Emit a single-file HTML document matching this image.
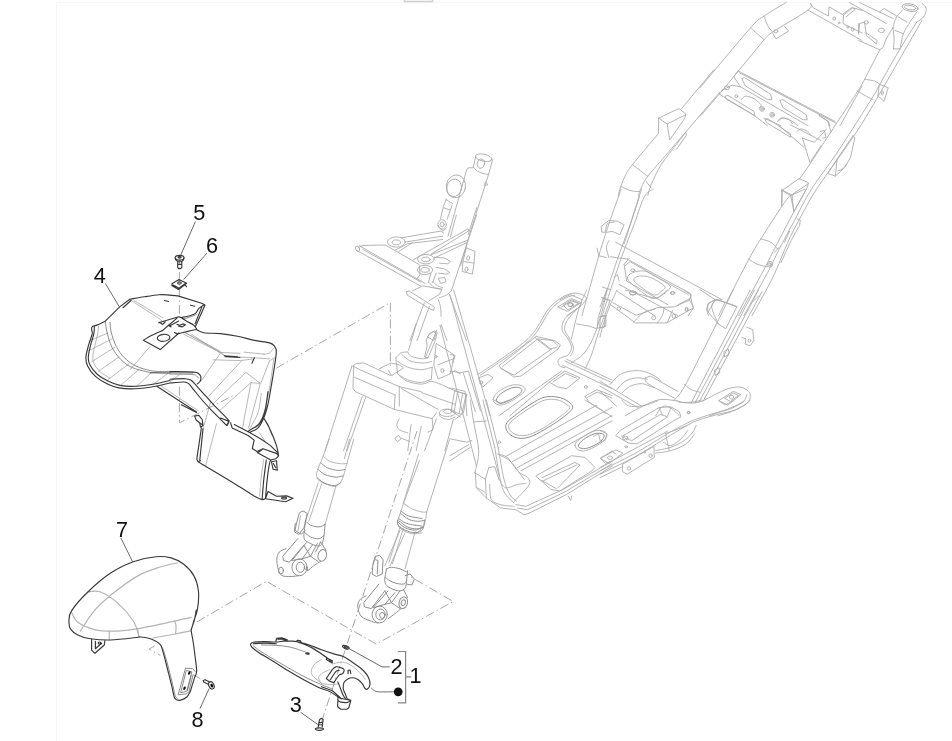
<!DOCTYPE html>
<html><head><meta charset="utf-8"><title>Parts diagram</title>
<style>
html,body{margin:0;padding:0;background:#fff;width:952px;height:741px;overflow:hidden}
svg{display:block;position:absolute;left:0;top:0;filter:blur(.45px)}
.k{fill:none;stroke:#383838;stroke-width:1.15;stroke-linecap:round;stroke-linejoin:round}
.m{fill:none;stroke:#707070;stroke-width:.8;stroke-linecap:round}
.n{fill:none;stroke:#b4b4b4;stroke-width:1.2;stroke-linecap:round}
.h{fill:none;stroke:#9a9a9a;stroke-width:.7;stroke-linecap:round}
.g{fill:none;stroke:#ababab;stroke-width:.9;stroke-linecap:round;stroke-linejoin:round}
.e{fill:none;stroke:#8e8e8e;stroke-width:1;stroke-linecap:round;stroke-linejoin:round}
.d{fill:none;stroke:#9c9c9c;stroke-width:.9;stroke-dasharray:9 3 1.5 3}
.b{fill:none;stroke:#858585;stroke-width:1.2}
.t{fill:none;stroke:#444;stroke-width:.8}
.f{fill:#111;stroke:none}
text{font-family:"Liberation Sans",Arial,sans-serif;font-size:21.7px;fill:#111}
.frame{fill:none;stroke:#f6f6f6;stroke-width:1}
.tab{fill:#fff;stroke:#cfcfcf;stroke-width:1.5}
</style></head><body>
<svg width="952" height="741" viewBox="0 0 952 741">
<path class="frame" d="M56.5,741V2.5H952"/>
<rect class="tab" x="404.5" y="-3" width="28" height="4.5"/>
<path class="g" d="M475.8,156.0 L473.3,167.0 M492.4,160.3 L488.5,174.6 M473.3,167.0C474.0,167.7 475.7,170.1 477.5,171.2C479.3,172.3 482.4,173.2 484.3,173.8C486.1,174.3 487.8,174.5 488.5,174.6 M466.5,170.4 L448.0,236.2 M488.5,174.6 L467.4,241.3 L460.6,265.7 M466.5,170.4 L468.2,167.8 L473.3,167.8 M476.7,207.5 L468.2,234.5 M446.3,199.1 L442.9,207.5 L450.5,210.0 M445.8,199.4 L452.5,203.5 M442.9,208.4 L440.4,219.3 M452.2,205.0 L447.1,219.3 M437.8,225.2 L442.9,231.1 L446.3,227.8 M485.4,182.2 L488.0,184.7 L484.3,185.6 L485.4,182.2 M359.3,245.7 L425.1,283.4 M357.6,250.8 L421.7,286.7 M362.7,249.3 L420.9,282.0 M364.3,245.4 L385.4,245.0 L419.2,264.5 L420.0,274.9 L417.0,278.8 M364.3,245.4 L360.1,246.2 M401.5,237.8 L441.1,231.0 L443.7,233.2 M405.7,242.0 L442.8,236.1 M394.7,250.4 L407.4,243.7 L442.8,239.5 M398.9,251.3 L412.4,242.8 M413.3,259.7 L468.1,228.8 L469.0,230.7 L431.0,254.2 M431.0,254.8 L467.3,240.3 M434.4,258.0 L466.5,242.8 M466.5,247.9 L474.9,251.3 L474.1,262.3 L472.4,274.1 L462.2,271.5 L463.1,260.6 L466.5,247.9 M463.1,261.4 L474.1,263.1 M406.5,291.8 L409.1,290.9 L434.4,307.0 L433.5,310.4 L431.0,309.5 L407.4,295.2 L406.5,291.8 M412.4,290.9 L422.6,285.9 L442.0,289.3 L439.5,294.3 L428.5,301.1 M429.3,282.5C430.2,283.4 432.3,286.4 434.4,287.6C436.5,288.7 440.7,289.0 442.0,289.3 M432.7,281.7C433.5,282.4 436.1,284.9 437.8,285.9C439.5,286.9 442.0,287.3 442.8,287.6 M431.0,272.4 L428.5,282.5 M436.1,273.2 L432.7,282.5 M438.6,278.3 L444.5,277.4 L446.2,281.7 L441.1,283.4Z M434.4,257.2 L444.5,258.0 L450.4,261.4 L447.9,263.9 L439.5,263.1 M436.1,267.3 L444.5,269.0 L449.6,272.4 L447.0,274.1 L438.6,273.2 M424.3,302.8 L409.9,340.7 M429.3,306.5 L417.0,340.7 M437.8,298.5C438.2,299.8 439.7,303.2 440.3,306.1C440.9,309.1 441.0,314.6 441.1,316.3 M441.1,324.7 L447.0,340.7 M449.2,294.0 L466.5,340.7 M439.5,297.7C440.6,297.3 444.2,296.3 446.2,295.2C448.2,294.0 450.4,291.7 451.3,290.9 M427.6,336.5 L432.7,331.5 L436.1,333.1 L433.9,340.1Z M476.6,215.0 L451.3,290.9 M456.3,215.0 L450.4,236.9 M352.1,365.5 L325.1,450.7 M365.6,397.6 L347.0,450.7 M362.2,396.7 L343.6,450.7 M353.8,366.4 L352.9,388.3 L355.4,391.7 L394.3,409.4 L432.2,418.7 L436.5,412.8 M352.9,365.8 L356.3,363.5 L363.9,363.0 L375.7,368.5 L390.9,375.6 M353.8,366.4 L359.7,369.7 L399.3,386.6 M354.6,377.3 L395.1,395.0 M399.3,386.6 L399.3,406.0 M395.1,395.0 L394.3,409.4 M399.3,386.6 L421.3,391.7 M401.0,388.3 L438.1,409.4 M421.3,392.5 L455.0,404.3 M432.2,418.7 L433.1,429.6 L428.0,432.2 M399.3,375.6C400.7,376.6 404.1,380.1 407.8,381.5C411.4,382.9 417.6,384.1 421.3,384.1C424.9,384.1 428.3,382.0 429.7,381.5 M397.6,373.9C399.3,374.9 403.8,378.4 407.8,379.9C411.7,381.3 417.3,382.5 421.3,382.4C425.2,382.2 429.7,379.6 431.4,379.0 M395.9,357.9C396.8,357.1 399.0,353.8 401.0,352.8C403.0,351.9 406.6,352.1 407.8,352.0 M397.6,361.3C399.3,362.3 403.8,365.8 407.8,367.2C411.7,368.6 417.2,369.7 421.3,369.7C425.3,369.7 430.4,367.6 432.2,367.2 M401.9,354.5C403.4,355.7 407.3,359.9 411.1,361.3C414.9,362.7 421.3,363.0 424.6,363.0C428.0,363.0 430.3,361.6 431.4,361.3 M407.8,352.0C408.3,352.7 408.9,355.1 411.1,356.2C413.4,357.3 418.5,358.5 421.3,358.8C424.1,359.0 426.9,358.1 428.0,357.9 M395.9,357.9 L397.6,373.9 M432.2,367.2 L431.4,379.0 M408.6,350.3 L416.5,323.3 M425.5,357.1 L436.8,330.1 M379.1,368.9 L390.9,363.0 L399.3,364.7 L403.5,368.0 L391.7,375.6 L388.4,370.6 M429.7,333.4 L434.8,330.9 L437.3,332.6 L434.8,341.9 L428.0,357.9 L424.6,357.1 L427.2,345.3 L426.3,340.2Z M436.5,343.6 L455.0,355.4 L450.0,373.9 L438.1,379.0 L433.9,365.5Z M438.1,364.7 L453.3,358.8 M428.0,380.7C429.7,381.1 433.6,381.5 438.1,383.2C442.6,384.9 450.2,389.0 455.0,390.8C459.8,392.7 464.9,393.6 466.8,394.2 M466.8,394.2 L463.5,412.8 L455.0,419.5 M450.0,373.9 L455.0,370.6 L460.1,373.9 M455.0,390.8 L466.0,394.2 L461.8,414.5 L451.6,411.1Z M457.6,391.7 L454.2,411.9 M462.6,393.4 L459.2,413.6 M439.8,413.6C440.0,414.2 439.3,416.0 440.7,417.0C442.1,418.0 445.9,419.5 448.3,419.5C450.7,419.5 453.9,417.4 455.0,417.0 M450.1,295.0 L499.4,476.9 M440.0,325.3 L476.6,466.6 M399.3,418.7C398.9,419.7 396.8,422.7 396.8,424.6C396.8,426.4 397.5,428.2 399.3,429.6C401.2,431.0 406.4,432.5 407.8,433.0 M411.1,424.6 L407.8,450.7 M421.3,426.3 L416.2,450.7 M395.1,438.1 L398.5,435.5 L401.0,438.9 L397.6,441.5Z M401.0,438.1 L409.5,441.5 M436.5,418.7 L424.6,450.7 M453.3,419.5 L444.9,450.7 M329.2,439.2 L323.3,456.0 M353.7,439.2 L346.9,463.6 M349.5,439.2 L344.4,458.6 M323.3,456.0C322.3,458.4 318.5,467.0 317.4,470.4C316.3,473.8 316.3,474.6 316.5,476.3C316.8,478.0 317.2,479.1 319.1,480.5C320.9,481.9 324.8,483.7 327.5,484.7C330.2,485.7 333.1,486.6 335.1,486.4C337.1,486.3 338.1,485.3 339.3,483.9C340.6,482.5 341.4,481.4 342.7,478.0C344.0,474.6 346.2,466.0 346.9,463.6 M323.3,456.0C324.3,456.9 326.5,459.8 329.2,461.1C331.9,462.4 336.4,463.2 339.3,463.6C342.3,464.1 345.7,463.6 346.9,463.6 M318.2,483.0 L305.6,521.0 M335.9,486.4 L325.0,524.4 M321.6,483.9 L308.9,521.0 M300.5,515.9 L298.0,531.1 M419.5,460.3 L403.5,503.3 M403.5,503.3C402.6,506.0 399.4,515.8 398.4,519.3C397.4,522.8 397.0,522.7 397.6,524.4C398.1,526.1 399.4,527.9 401.8,529.5C404.2,531.0 408.5,533.1 411.9,533.7C415.3,534.2 420.3,533.0 422.0,532.8 M400.1,530.3 L384.9,565.7 M405.1,532.8 L390.0,565.7 M400.0,526.8 L389.0,562.2 M415.1,531.8 L405.0,568.9 M403.3,528.4 L392.4,563.9 M403.4,503.1C404.8,504.0 408.5,507.2 411.5,508.6C414.5,510.1 419.1,511.4 421.6,511.9C424.1,512.5 425.8,511.9 426.7,511.9 M426.7,511.9C426.4,513.4 426.0,518.2 425.4,520.8C424.8,523.3 424.3,525.0 422.9,527.1C421.4,529.2 417.6,532.3 416.6,533.4 M449.4,440.0 L426.7,511.9 M418.6,453.9 L403.4,503.1 M453.7,290.0 L490.0,415.7 M477.8,374.4C480.2,372.8 485.6,369.6 492.2,365.1C498.8,360.6 511.0,352.3 517.5,347.4C524.0,342.5 527.4,339.5 531.0,335.6C534.7,331.6 536.9,327.7 539.5,323.8C542.0,319.8 543.7,315.5 546.2,311.9C548.7,308.4 551.5,305.3 554.6,302.7C557.7,300.0 561.4,297.5 564.8,295.9C568.1,294.3 571.8,293.2 574.9,293.0C578.0,292.9 581.4,294.2 583.3,295.1C585.3,296.0 586.1,297.9 586.7,298.4 M480.4,375.2C486.8,370.8 510.5,355.1 519.2,348.7C527.9,342.3 529.0,340.9 532.7,336.9C536.4,333.0 538.6,329.0 541.1,325.1C543.7,321.2 545.4,316.8 547.9,313.3C550.4,309.8 552.9,307.0 556.0,304.3C559.1,301.7 563.3,299.1 566.5,297.6C569.6,296.0 573.5,295.5 574.9,295.1 M586.7,298.4C585.9,299.6 584.7,302.4 581.6,305.2C578.6,308.0 571.2,312.5 568.1,315.3C565.0,318.1 564.1,319.5 563.1,322.1C562.1,324.6 561.4,327.7 562.2,330.5C563.1,333.3 566.6,336.1 568.1,338.9C569.7,341.8 571.5,344.7 571.5,347.4C571.5,350.1 569.8,353.3 568.1,355.0C566.5,356.7 563.1,356.5 561.4,357.5C559.7,358.5 558.3,359.5 558.0,360.9C557.7,362.3 558.6,364.8 559.7,365.9C560.8,367.1 563.9,367.4 564.8,367.6 M579.1,306.9C577.4,308.7 571.2,315.0 569.0,317.8C566.7,320.7 566.3,321.6 565.6,323.8C564.9,325.9 564.1,328.0 564.8,330.5C565.5,333.0 568.4,336.0 569.8,338.9C571.3,341.9 573.4,345.4 573.5,348.2C573.7,351.0 571.2,354.6 570.7,355.8 M558.0,306.9 L571.5,298.4 L580.8,302.7 L568.1,311.1Z M561.4,307.2 L571.9,300.8 L578.3,303.5 M498.9,365.9 L536.1,336.4 L554.6,340.6 L560.5,344.9 L558.0,349.1 L520.9,376.1 L514.1,376.9Z M502.3,366.8 L537.8,338.9 L551.3,349.4 M534.4,337.3 L549.6,349.1 L556.3,347.4 M500.6,368.5 L514.1,375.2 L551.3,349.1 M537.8,338.9 L553.0,340.6 L558.0,345.7 M478.7,377.8 L488.0,374.4 L493.0,377.8 L482.9,387.0Z M493.0,399.7C493.0,397.4 496.0,393.7 498.9,391.3C501.9,388.9 507.1,386.3 510.8,385.4C514.4,384.4 518.5,384.7 520.9,385.4C523.3,386.1 525.1,388.0 525.1,389.6C525.1,391.1 523.6,392.5 520.9,394.6C518.2,396.8 512.7,400.5 509.1,402.2C505.4,404.0 501.6,405.5 498.9,405.1C496.3,404.7 493.0,402.0 493.0,399.7Z M498.9,415.7 L561.4,371.0 M509.9,415.7 L549.6,382.0 M564.8,360.9 L612.0,382.8 M562.2,365.1 L612.0,388.7 M566.5,359.2 L612.0,380.0 M549.6,382.0 L564.8,371.0 L580.0,377.8 L566.5,388.7 L558.0,387.0Z M553.0,382.0 L565.6,373.5 L576.6,378.1 M585.0,396.3 L596.8,389.6 L612.0,395.5 M585.0,396.3 L590.1,403.1 L612.0,416.6 M587.6,397.2 L597.2,392.1 L612.0,398.0 M571.5,362.6C573.5,361.2 579.7,358.4 583.3,354.1C587.0,349.9 590.4,344.3 593.5,337.3C596.6,330.2 599.6,319.8 601.9,311.9C604.1,304.1 606.1,293.7 607.0,290.0 M586.7,290.0C585.6,292.5 581.9,299.6 580.0,305.2C578.0,310.8 576.3,318.1 574.9,323.8C573.5,329.4 572.1,336.4 571.5,338.9 M585.0,369.3C586.1,366.8 589.5,360.3 591.8,354.1C594.0,347.9 595.4,341.2 598.5,332.2C601.6,323.2 608.4,305.5 610.3,300.1 M598.5,317.0 L605.3,315.3 L604.4,327.1 L597.7,328.0Z M576.6,323.8 L590.1,326.3 L596.8,328.8 M450.0,354.1 L454.2,355.8 L452.5,362.6 M450.0,371.0 L460.1,372.7 L468.6,371.0 M463.5,373.5 L475.3,411.5 M468.6,371.9 L480.4,410.7 M450.0,387.9 L465.2,391.3 L466.9,415.7 M625.3,290.0 L648.9,296.8 L657.4,298.4 L667.5,290.0 M610.1,304.3 L635.4,322.9 L666.7,322.9 L693.7,307.7 L689.5,300.1 L691.1,295.1 L684.4,290.0 M612.7,302.7 L636.3,315.3 L657.4,307.7 L674.3,306.9 L689.5,300.1 M633.8,322.1C635.2,320.7 638.5,315.9 642.2,313.6C645.9,311.4 653.4,309.4 655.7,308.6 M657.4,322.9C658.2,321.6 661.3,317.8 662.4,315.3C663.6,312.8 663.9,309.0 664.1,307.7 M667.5,322.1 L672.6,310.3 M606.8,290.0 L600.0,306.9 M616.9,290.0C615.8,292.5 612.4,299.6 610.1,305.2C607.9,310.8 605.1,318.4 603.4,323.8C601.7,329.1 600.6,335.0 600.0,337.3 M601.7,297.6 L608.4,300.1 M600.8,317.0 L605.9,315.3 L605.9,326.3 L600.0,328.0Z M733.3,290.0C730.5,295.6 721.8,313.1 716.5,323.8C711.1,334.4 706.9,343.2 701.3,354.1C695.6,365.1 687.2,382.0 682.7,389.6C678.2,397.2 675.7,398.0 674.3,399.7 M750.2,290.0 L691.1,403.1 M754.4,290.0 L694.9,403.1 M758.6,290.0 L699.1,402.2 M762.0,291.7 L703.0,401.4 M708.0,303.5 L716.5,299.3 L736.7,306.9 L725.7,328.8 L718.1,323.8 L708.0,311.9Z M716.5,299.3C715.7,300.5 711.4,302.8 711.7,306.9C712.0,311.0 717.1,320.9 718.1,323.8 M684.4,384.5C685.5,385.4 688.6,388.3 691.1,389.6C693.7,390.8 698.2,391.7 699.6,392.1 M724.1,351.6 L728.3,349.1 L729.1,354.1 L724.9,356.7Z M714.8,370.2 L719.0,367.6 L719.8,372.7 L715.6,375.2Z M746.8,327.1 L752.7,329.7 L753.9,340.6 L750.2,345.7 L745.1,344.0 L746.0,338.9 L741.8,337.3 M610.1,384.5C611.8,382.8 616.3,376.7 620.3,374.4C624.2,372.1 629.5,371.1 633.8,370.7C638.0,370.3 641.6,370.7 645.6,371.9C649.5,373.0 654.9,376.2 657.4,377.8C659.9,379.3 660.2,380.6 660.8,381.1 M616.9,389.6C618.3,388.2 621.9,383.1 625.3,381.1C628.7,379.2 633.5,378.0 637.1,377.8C640.8,377.5 645.6,379.2 647.3,379.5 M621.9,393.0C623.3,391.8 627.0,387.7 630.4,386.2C633.8,384.7 638.3,383.4 642.2,383.7C646.1,384.0 652.0,387.2 654.0,387.9 M645.6,377.8 L650.6,376.1 L677.6,391.3 M645.6,377.8C646.0,378.7 643.3,380.3 648.1,383.7C652.9,387.0 669.9,395.6 674.3,398.0 M600.0,381.1 L642.2,406.5 M600.0,386.2 L638.8,408.1 M600.0,391.3 L616.9,406.5 M625.3,415.7C628.1,414.2 636.6,409.1 642.2,406.5C647.8,403.8 653.7,400.7 659.1,399.7C664.4,398.7 669.5,400.0 674.3,400.5C679.0,401.1 683.3,402.9 687.8,403.1C692.3,403.2 696.8,402.8 701.3,401.4C705.8,400.0 710.3,396.8 714.8,394.6C719.3,392.5 724.1,390.0 728.3,388.7C732.5,387.5 736.7,386.6 740.1,387.0C743.5,387.5 746.8,389.4 748.5,391.3C750.2,393.1 750.8,395.8 750.2,398.0C749.6,400.3 748.2,402.5 745.1,404.8C742.1,407.0 736.1,409.7 731.6,411.5C727.1,413.3 720.4,415.0 718.1,415.7 M746.8,394.6C746.3,395.8 746.3,399.1 743.5,401.4C740.6,403.6 735.6,405.8 730.0,408.1C724.3,410.5 713.1,414.5 709.7,415.7 M719.0,400.5 L733.3,391.3 L740.9,394.6 L728.3,404.8Z M724.9,398.0 L733.3,393.0 L738.4,395.5 L730.8,401.4Z M655.7,415.7C656.8,414.2 659.9,407.7 662.4,406.5C665.0,405.2 668.1,406.6 670.9,408.1C673.7,409.7 677.9,414.5 679.3,415.7 M482.9,400.0 L494.7,447.3 M494.7,447.3C495.7,452.9 498.8,473.1 500.6,481.0C502.5,488.9 503.4,490.9 505.7,494.5C507.9,498.2 512.7,501.5 514.1,503.0 M486.3,400.0 L498.1,447.3 M498.1,447.3C499.1,452.6 502.0,471.4 504.0,479.3C506.0,487.2 507.8,490.9 509.9,494.5C512.0,498.2 515.5,500.1 516.7,501.3 M470.3,400.0C470.8,403.7 472.2,413.5 473.6,421.9C475.0,430.4 478.4,442.5 478.7,450.6C479.0,458.8 475.9,467.5 475.3,470.9 M473.6,421.9 L486.3,421.1 M475.3,470.9 L476.2,487.8 L486.3,497.9 L500.6,508.0 L515.8,509.7 L524.3,514.8 L529.3,513.1 M474.5,472.6 L485.4,479.3 L488.8,467.5 L494.7,466.7 L498.9,479.3 M485.4,479.3 L486.3,497.9 M489.7,484.4C489.9,486.9 489.5,496.2 491.4,499.6C493.2,503.0 496.8,503.5 500.6,504.6C504.4,505.8 511.9,506.0 514.1,506.3 M477.0,487.8 L484.6,492.0 M529.3,513.1 L566.5,494.5 L612.0,466.3 M517.5,508.0 L527.6,509.7 L564.8,492.0 L612.0,463.8 M515.8,504.6 L525.9,506.3 L563.1,489.5 L612.0,461.3 M568.1,496.2 L570.7,500.4 L571.5,496.2 M497.3,454.0C498.9,454.6 504.0,454.6 507.4,457.4C510.8,460.2 514.1,467.5 517.5,470.9C520.9,474.3 525.7,475.4 527.6,477.6C529.6,479.9 530.5,481.6 529.3,484.4C528.2,487.2 523.4,491.7 520.9,494.5C518.4,497.3 515.3,500.1 514.1,501.3 M500.6,455.7C502.2,456.5 506.8,457.9 509.9,460.8C513.0,463.6 516.8,469.5 519.2,472.6C521.6,475.7 523.4,478.2 524.3,479.3 M498.9,479.3C500.1,480.7 502.6,486.9 505.7,487.8C508.8,488.6 514.1,485.1 517.5,484.4C520.9,483.7 524.5,483.7 525.9,483.5 M505.7,456.5 L596.8,405.1 M512.4,461.6 L612.0,407.3 M517.5,467.5 L612.0,415.7 M520.9,470.9 L612.0,420.8 M536.1,475.9 L571.5,455.7 L585.0,457.4 L595.1,467.5 L591.8,470.9 L559.7,491.1 L551.3,489.5Z M542.0,477.6 L574.9,462.4 L580.0,465.0 L558.0,487.8 M541.1,480.2 L556.3,488.6 M542.8,481.0 L576.6,465.0 M574.9,445.6C574.9,443.6 576.9,441.2 580.0,438.8C583.1,436.4 589.5,432.5 593.5,431.2C597.4,430.0 601.3,430.5 603.6,431.2C605.8,431.9 607.2,433.6 607.0,435.4C606.7,437.3 605.0,439.8 601.9,442.2C598.8,444.6 592.1,448.4 588.4,449.8C584.7,451.2 582.2,451.3 580.0,450.6C577.7,449.9 574.9,447.5 574.9,445.6Z M593.5,436.3 L598.5,433.8 L600.2,440.5 M612.0,451.1 L600.2,458.2 L605.3,463.3 L612.0,461.1 M493.9,400.0 L500.6,403.4 L509.1,400.0 M450.0,410.1 L460.1,416.9 M450.0,438.8 L466.9,442.2 L471.9,440.5 M450.0,455.7 L468.6,444.7 M450.0,460.8 L470.3,447.3 M585.0,400.0 L601.9,410.1 L605.3,413.5 M600.0,474.3C605.6,471.4 622.5,463.6 633.8,457.4C645.0,451.2 659.1,442.2 667.5,437.1C675.9,432.1 679.3,429.8 684.4,427.0C689.5,424.2 692.3,422.4 697.9,420.3C703.5,418.1 712.0,416.0 718.1,414.3C724.3,412.7 730.2,412.0 735.0,410.1C739.8,408.3 744.3,405.1 746.8,403.4C749.4,401.7 749.6,400.6 750.2,400.0 M600.0,470.9C605.6,468.1 622.5,460.2 633.8,454.0C645.0,447.8 659.1,438.7 667.5,433.8C675.9,428.8 679.3,427.0 684.4,424.5C689.5,421.9 692.5,420.5 697.9,418.6C703.2,416.6 710.8,414.3 716.5,412.7C722.1,411.0 727.1,410.3 731.6,408.4C736.1,406.6 741.5,402.8 743.5,401.7 M600.0,467.5 L667.5,431.2 M600.0,477.6 L622.8,466.7 M616.0,435.4 L620.3,430.4 L659.1,407.6 L670.9,406.8 L679.3,411.8 L681.0,416.9 L674.3,420.3 L637.1,443.9 L628.7,443.0Z M621.9,436.3 L660.8,414.3 L667.5,416.9 L632.1,440.5Z M659.1,407.6 L662.4,415.2 M670.9,407.6 L667.5,416.0 M600.8,458.2 L616.0,449.8 L622.8,453.2 L609.3,463.3Z M611.8,451.5 L616.0,454.0 M622.8,464.1 L654.0,446.4 L654.3,457.4 L627.0,474.3 L622.8,471.7Z M655.7,450.6C658.2,450.1 666.1,448.9 670.9,447.3C675.7,445.6 680.7,443.0 684.4,440.5C688.0,438.0 690.9,434.6 692.8,432.1C694.8,429.5 695.6,426.4 696.2,425.3 M655.7,453.2C658.2,452.7 665.8,452.2 670.9,450.6C675.9,449.1 682.1,446.7 686.1,443.9C690.0,441.1 693.1,435.4 694.5,433.8 M663.3,442.2C664.6,442.8 667.9,446.1 670.9,445.6C673.8,445.0 678.2,441.4 681.0,438.8C683.8,436.3 686.6,431.8 687.8,430.4 M665.0,433.8C666.5,433.2 670.5,431.8 674.3,430.4C678.1,429.0 685.5,426.2 687.8,425.3 M665.8,435.4C666.1,436.6 666.9,439.7 667.5,442.2C668.1,444.7 668.9,449.2 669.2,450.6 M621.9,400.0C623.1,401.0 625.3,404.9 628.7,405.9C632.1,406.9 637.7,406.6 642.2,405.9C646.7,405.2 653.0,402.7 655.7,401.7C658.4,400.7 657.8,400.3 658.2,400.0 M675.9,400.0C676.8,400.4 677.9,402.3 681.0,402.5C684.1,402.8 691.1,402.1 694.5,401.7C697.9,401.3 700.1,400.3 701.3,400.0 M719.0,400.8 L724.9,405.1 L733.3,400.8 M600.0,430.4 L606.8,433.8 L605.1,440.5 L600.0,442.2 M533.0,406.0C537.2,403.5 541.0,401.0 545.0,400.0C549.0,399.0 553.6,399.2 557.0,399.8C560.4,400.4 563.4,402.1 565.5,403.5C567.6,404.9 570.5,406.3 569.5,408.5C568.5,410.7 564.0,413.7 559.7,416.9C555.4,420.1 548.8,424.9 543.7,427.8C538.6,430.8 533.4,433.3 529.3,434.6C525.2,435.9 522.2,435.8 519.2,435.4C516.2,435.0 513.4,433.6 511.6,432.1C509.8,430.6 508.6,428.3 508.5,426.5C508.4,424.7 509.2,423.4 511.0,421.5C512.8,419.6 515.8,417.6 519.5,415.0C523.2,412.4 528.8,408.5 533.0,406.0Z M581.9,315.7C584.8,305.8 594.3,271.2 598.8,255.8C603.3,240.5 605.2,234.9 608.9,223.8C612.7,212.6 619.1,194.9 621.1,189.2 M598.8,315.7C601.6,307.2 610.4,279.9 615.7,264.3C621.0,248.6 626.6,234.6 630.9,222.1C635.2,209.5 639.6,194.6 641.4,189.2 M602.2,315.7C605.0,307.2 613.7,279.6 619.1,264.3C624.4,248.9 630.0,235.0 634.3,223.8C638.5,212.5 641.2,202.5 644.4,196.8C647.5,191.0 651.7,190.4 653.2,189.2 M624.1,244.0 L639.3,196.8 M601.4,226.3 L608.9,220.4 L617.4,221.2 L624.1,224.6 L619.9,234.7 L612.3,231.4 L607.3,232.2 L602.2,232.2Z M605.6,231.4C605.9,230.1 605.9,225.3 607.3,223.8C608.7,222.2 612.9,222.3 614.0,222.1 M615.7,242.3 L722.0,299.7 M610.6,256.7 L627.5,259.2 M608.9,240.6C608.5,241.8 606.4,244.6 606.4,247.4C606.4,250.2 608.5,255.8 608.9,257.5 M597.1,248.2 L598.8,255.8 L606.4,257.5 M627.5,259.2 L690.8,293.8 L690.8,298.0 L678.1,304.8 M625.0,265.9 L630.0,261.7 L688.3,294.6 M624.1,264.3 L629.2,258.4 M624.1,264.3 L626.7,281.1 L668.0,304.8 M627.5,277.8C627.5,275.8 629.8,273.8 632.6,272.7C635.4,271.6 640.7,270.5 644.4,271.0C648.0,271.6 650.3,273.7 654.5,276.1C658.7,278.5 667.5,283.0 669.7,285.4C672.0,287.7 669.4,288.7 668.0,290.4C666.6,292.1 664.1,294.2 661.3,295.5C658.5,296.8 655.9,299.8 651.1,298.0C646.4,296.2 636.5,287.9 632.6,284.5C628.6,281.1 627.5,279.7 627.5,277.8Z M634.3,281.1C632.0,278.0 636.5,276.6 639.3,276.1C642.1,275.5 646.9,276.1 651.1,277.8C655.4,279.5 663.0,284.0 664.6,286.2C666.3,288.5 663.2,289.9 661.3,291.3C659.3,292.7 657.3,296.3 652.8,294.6C648.3,293.0 636.5,284.2 634.3,281.1Z M619.1,284.5 L678.1,315.7 M617.4,291.3 L654.5,315.7 M602.2,287.0 L610.6,289.6 M602.2,298.0 L610.6,300.5 M614.0,277.8 L617.4,274.4 L619.1,281.1 M560.0,299.7 L570.1,294.6 L581.9,299.7 L580.3,306.5 L566.8,315.7 M563.4,304.8 L571.8,299.7 L578.6,303.1 L568.4,309.8Z M722.0,299.7C720.3,300.0 714.4,300.0 711.9,301.4C709.4,302.8 707.4,305.8 706.8,308.1C706.3,310.5 708.2,314.5 708.5,315.7 M690.8,298.0 L693.3,308.1 L688.3,315.7 M760.8,238.9C762.4,239.5 768.1,240.6 770.9,242.3C773.7,244.0 776.5,247.9 777.6,249.1 M748.9,259.2C750.4,260.0 754.3,263.0 757.4,264.3C760.5,265.5 765.8,266.4 767.5,266.8 M781.9,189.2 L781.9,205.2 M792.0,195.1 L793.7,211.1 M781.9,190.0 L792.0,195.1 L804.6,189.2 M797.0,218.7 L800.4,220.4 L799.6,225.4 L791.1,240.6 L781.0,262.6 M789.5,231.4 L784.4,242.3 M774.3,252.4 L779.3,247.4 M700.0,289.6 L715.2,299.7 L725.3,302.2 L737.1,306.5 M715.2,299.7 L708.4,311.5 M725.3,302.2 L718.6,315.7 M754.0,300.5 L759.1,295.5 M713.6,70.0 L681.5,108.8 M657.9,134.1C653.7,139.2 637.9,157.8 632.6,164.5C627.2,171.3 627.8,171.0 625.8,174.6C623.9,178.3 622.0,182.9 620.8,186.5C619.5,190.0 618.6,194.2 618.2,195.7 M720.0,91.9C714.7,98.1 696.9,118.9 688.3,129.1C679.6,139.2 674.8,144.8 668.0,152.7C661.3,160.6 652.3,170.4 647.8,176.3C643.3,182.2 642.6,184.9 641.0,188.1C639.5,191.4 638.9,194.5 638.5,195.7 M685.7,132.4C684.2,134.4 680.5,138.9 676.5,144.3C672.4,149.6 665.5,157.8 661.3,164.5C657.0,171.3 653.4,179.6 651.1,184.8C648.9,190.0 648.3,193.9 647.8,195.7 M685.7,132.4 L686.6,135.0 L676.5,149.3 M632.6,164.5C634.0,165.6 638.5,169.3 641.0,171.3C643.5,173.2 646.6,175.5 647.8,176.3 M620.8,186.5C622.4,187.2 627.8,189.8 630.9,190.7C634.0,191.5 637.9,191.4 639.3,191.5 M646.1,181.4 L651.1,188.1 M658.7,118.1 L679.0,108.5 L685.7,113.9 L684.9,118.1 L669.7,140.0 L667.2,124.0 L658.7,118.1 M658.7,118.1 L658.4,133.3 M667.2,124.0 L685.7,114.7 M700.0,87.8C708.4,77.8 739.9,39.8 750.6,27.8C761.3,15.9 758.2,20.3 764.1,16.0C770.0,11.8 782.4,4.8 786.1,2.5 M700.0,116.5 L721.9,91.1 L764.1,39.7 M764.1,39.7C765.5,38.4 765.3,37.0 772.6,32.1C779.9,27.1 801.7,14.9 808.0,10.1C814.3,5.3 810.1,4.5 810.5,3.4 M750.6,27.8C751.8,28.8 755.1,31.8 757.4,33.8C759.6,35.7 763.0,38.7 764.1,39.7 M764.1,16.0C764.7,17.6 766.1,22.6 767.5,25.3C768.9,28.0 771.7,30.9 772.6,32.1 M772.6,32.9 L775.9,38.8 L788.6,31.2 L784.4,26.2 M810.5,3.4 L813.1,7.6 L828.3,16.0 L829.1,6.8 L843.5,15.2 L843.1,23.6 L862.0,32.9 M843.5,15.2 L852.7,7.6 L862.0,10.5 M808.0,10.1 L862.0,40.5 M858.6,23.6 L858.6,33.8 M738.0,70.9 L835.0,121.5 M739.7,72.9 L836.7,123.5 M738.0,70.9 L733.8,76.8 L740.5,86.9 L808.0,125.7 M742.2,78.5 L744.7,77.6 L770.9,94.5 L771.7,99.6 L767.5,99.6 L745.6,86.1Z M780.2,100.4 L782.7,99.6 L806.3,114.8 L807.2,119.8 L803.0,119.8 L783.5,108.0Z M721.9,90.3 L732.1,85.2 L740.5,86.9 M725.3,96.2 L727.8,95.4 L754.0,111.4 L754.9,115.6 L727.0,99.6Z M741.4,99.6C742.1,99.0 743.5,96.3 745.6,96.2C747.7,96.1 751.5,97.3 754.0,98.7C756.5,100.1 759.9,103.1 760.8,104.6C761.6,106.2 759.4,107.5 759.1,108.0 M764.1,118.1 L781.0,125.7 M777.6,121.5C778.5,121.0 780.5,118.3 782.7,118.1C785.0,118.0 788.6,119.4 791.1,120.7C793.7,121.9 796.8,124.9 797.9,125.7 M718.6,93.7 L755.7,116.5 L767.5,125.7 M819.0,115.6 L828.3,121.5 L830.0,125.7 M862.0,86.1 L840.1,125.7 M858.7,33.8 L859.5,23.6 L864.6,21.9 L866.3,35.4 L876.4,43.9 L877.2,40.5 L866.3,32.9 M858.7,40.5 L879.8,49.8 L883.1,47.3 L885.7,39.7 L893.3,27.0 M849.4,2.5 L886.5,23.6 M859.5,2.5 L893.3,18.6 M879.8,11.8 L884.0,8.4 L896.6,16.0 M842.6,14.3 L851.9,7.6 L855.3,9.3 L846.0,16.9 M864.6,79.3C866.3,79.6 872.2,80.2 874.7,81.0C877.2,81.9 878.9,83.8 879.8,84.4 M857.8,91.1C859.2,92.0 863.7,94.8 866.3,96.2C868.8,97.6 871.9,99.0 873.0,99.6 M879.8,84.4 L888.2,87.8 L884.0,101.3 L878.1,96.2Z M902.5,10.1C901.6,11.3 898.2,14.1 896.6,16.9C895.1,19.7 893.7,23.3 893.3,27.0C892.8,30.7 894.1,35.2 894.1,38.8C894.1,42.5 893.4,47.3 893.3,48.9 M916.9,11.8C915.8,13.5 912.4,18.3 910.1,21.9C907.9,25.6 905.1,29.3 903.4,33.8C901.7,38.3 900.6,46.4 900.0,48.9 M922.0,3.4C922.7,4.2 925.9,6.2 926.2,8.4C926.5,10.7 925.2,14.6 923.6,16.9C922.1,19.1 918.0,21.1 916.9,21.9 M898.3,16.9 L906.8,21.9 M895.0,30.4 L903.4,33.8 M893.3,48.9 L900.0,48.9 M853.1,135.6 L854.8,138.1 L850.5,157.5 L844.6,167.6 L835.4,176.1 L827.8,173.5 L837.0,159.2 L853.1,135.6 M837.0,159.2 L835.4,176.1 M846.3,164.3C845.8,165.0 844.4,167.4 843.0,168.5C841.5,169.6 838.7,170.6 837.9,171.0 M782.2,190.4 L799.1,178.6 L808.4,182.8 L807.5,187.0 L794.0,211.5 L790.6,195.5 L782.2,190.4 M782.2,190.4 L781.4,205.6 M790.6,195.5 L808.4,183.7 M802.4,138.1 L810.0,162.6 L821.0,145.7 M802.4,138.1 L814.3,142.3 L826.1,129.7 M819.3,115.3 L827.8,121.2 L831.1,132.2 M820.2,131.4 L824.4,130.5 L826.1,137.3 L822.7,138.1 M778.8,125.4 L804.1,147.4 M765.3,119.5 L767.8,118.7 L790.6,133.9 L790.6,137.3 L767.0,122.9Z M778.0,120.4C778.7,120.0 780.4,118.0 782.2,117.8C784.0,117.7 787.3,118.6 788.9,119.5C790.6,120.5 791.8,123.1 792.3,123.8 M796.5,132.2C797.2,131.6 798.9,129.0 800.8,128.8C802.6,128.7 805.8,130.2 807.5,131.4C809.2,132.5 810.3,134.9 810.9,135.6 M790.6,124.9 L821.0,140.6 M879.8,49.8C877.3,54.7 868.3,72.4 864.6,79.3C860.9,86.2 862.5,83.7 857.8,91.1C853.1,98.5 844.0,111.9 836.2,123.8C828.4,135.7 817.1,153.3 810.9,162.6C804.7,171.9 801.1,176.7 799.1,179.5 M790.5,195.0C789.2,196.7 787.7,197.9 782.7,205.2C777.8,212.5 766.4,229.9 760.8,238.9C755.2,247.9 754.5,248.8 748.9,259.2C743.3,269.6 730.6,294.4 727.0,301.4 M916.9,21.9C914.1,26.4 906.2,38.5 900.0,48.9C893.8,59.3 884.3,76.4 879.8,84.4C875.2,92.4 879.5,86.1 872.7,97.0C865.9,107.9 849.1,134.6 838.9,150.0C828.7,165.4 818.8,177.5 811.4,189.2C804.0,200.9 799.9,210.4 794.5,220.4C789.1,230.4 783.8,240.4 779.3,249.1C774.8,257.8 773.4,261.6 767.5,272.7C761.6,283.8 747.8,308.5 743.9,315.7 M922.0,20.3C915.5,31.6 893.3,70.3 883.1,87.8C872.9,105.2 867.9,114.1 861.0,125.0C854.1,135.9 849.4,142.3 842.0,153.0C834.6,163.7 823.9,177.7 816.5,189.2C809.1,200.7 802.7,213.2 797.9,222.1C793.1,230.9 792.0,233.0 787.8,242.3C783.6,251.6 778.6,265.6 772.6,277.8C766.6,290.0 755.4,309.4 752.0,315.7 M806.3,189.2C803.8,193.8 796.4,207.0 791.1,217.0C785.8,227.0 778.8,240.4 774.3,249.1C769.8,257.8 770.0,258.2 764.1,269.3C758.2,280.4 743.0,308.0 738.8,315.7"/>
<ellipse class="g" cx="483.8" cy="157.7" rx="8.4" ry="3.5" transform="rotate(12 483.8 157.7)"/>
<ellipse class="g" cx="480.9" cy="163.6" rx="3.7" ry="4.7" transform="rotate(15 480.9 163.6)"/>
<ellipse class="g" cx="455.9" cy="186.4" rx="9.6" ry="11.5" transform="rotate(10 455.9 186.4)"/>
<ellipse class="g" cx="454.2" cy="187.8" rx="7.3" ry="8.8" transform="rotate(10 454.2 187.8)"/>
<ellipse class="g" cx="442.1" cy="224.4" rx="4.2" ry="4.7"/>
<ellipse class="g" cx="442.1" cy="224.4" rx="2.0" ry="2.4"/>
<ellipse class="g" cx="357.6" cy="248.8" rx="1.9" ry="2.9" transform="rotate(-20 357.6 248.8)"/>
<ellipse class="g" cx="396.4" cy="242.0" rx="8.9" ry="5.1"/>
<ellipse class="g" cx="396.4" cy="242.3" rx="4.2" ry="2.4"/>
<ellipse class="g" cx="425.9" cy="259.2" rx="8.4" ry="4.7"/>
<ellipse class="g" cx="425.9" cy="259.4" rx="4.2" ry="2.2"/>
<ellipse class="g" cx="425.1" cy="269.9" rx="7.6" ry="4.7"/>
<ellipse class="g" cx="425.1" cy="269.9" rx="4.1" ry="2.4"/>
<ellipse class="g" cx="468.1" cy="258.0" rx="1.5" ry="2.2" transform="rotate(10 468.1 258.0)"/>
<ellipse class="g" cx="466.5" cy="269.3" rx="1.5" ry="2.2" transform="rotate(10 466.5 269.3)"/>
<ellipse class="g" cx="436.1" cy="356.7" rx="1.0" ry="1.4"/>
<ellipse class="g" cx="442.4" cy="370.6" rx="1.5" ry="2.2"/>
<ellipse class="g" cx="447.4" cy="412.8" rx="8.1" ry="3.7"/>
<ellipse class="g" cx="447.8" cy="411.4" rx="4.2" ry="2.0"/>
<ellipse class="g" cx="570.2" cy="304.5" rx="2.5" ry="2.2"/>
<ellipse class="g" cx="481.1" cy="382.5" rx="1.7" ry="1.5"/>
<ellipse class="g" cx="585.9" cy="387.0" rx="1.5" ry="1.4"/>
<ellipse class="g" cx="633.2" cy="293.0" rx="3.7" ry="2.0"/>
<ellipse class="g" cx="672.6" cy="293.0" rx="2.0" ry="1.4"/>
<ellipse class="g" cx="618.9" cy="308.6" rx="1.7" ry="1.7"/>
<ellipse class="g" cx="653.7" cy="317.8" rx="2.0" ry="2.0"/>
<ellipse class="g" cx="673.8" cy="316.2" rx="1.7" ry="2.0"/>
<ellipse class="g" cx="686.6" cy="309.1" rx="1.4" ry="2.0"/>
<ellipse class="g" cx="749.4" cy="340.6" rx="1.4" ry="1.4"/>
<ellipse class="g" cx="731.6" cy="397.2" rx="2.2" ry="1.9"/>
<ellipse class="g" cx="688.6" cy="412.4" rx="1.2" ry="1.0"/>
<ellipse class="g" cx="499.3" cy="442.2" rx="1.4" ry="1.2"/>
<ellipse class="g" cx="625.3" cy="438.0" rx="2.5" ry="2.0"/>
<ellipse class="g" cx="688.6" cy="412.7" rx="1.4" ry="1.2"/>
<ellipse class="g" cx="626.2" cy="446.9" rx="1.2" ry="1.0"/>
<ellipse class="g" cx="610.1" cy="457.7" rx="2.5" ry="1.7"/>
<ellipse class="g" cx="629.0" cy="468.4" rx="1.7" ry="1.7"/>
<ellipse class="g" cx="650.6" cy="455.7" rx="1.7" ry="1.7"/>
<ellipse class="g" cx="644.7" cy="452.3" rx="0.8" ry="0.8"/>
<ellipse class="g" cx="632.9" cy="270.2" rx="2.0" ry="1.4"/>
<ellipse class="g" cx="672.7" cy="293.0" rx="2.0" ry="1.4"/>
<ellipse class="g" cx="632.6" cy="293.0" rx="3.0" ry="2.0"/>
<ellipse class="g" cx="571.0" cy="304.8" rx="2.5" ry="1.7"/>
<ellipse class="g" cx="686.6" cy="309.8" rx="1.4" ry="1.7"/>
<ellipse class="g" cx="770.0" cy="264.3" rx="2.5" ry="3.0"/>
<ellipse class="g" cx="770.0" cy="264.3" rx="1.2" ry="1.5"/>
<ellipse class="g" cx="775.9" cy="31.2" rx="2.0" ry="1.7"/>
<ellipse class="g" cx="834.2" cy="18.6" rx="1.4" ry="1.7"/>
<ellipse class="g" cx="839.2" cy="22.8" rx="0.8" ry="0.8"/>
<ellipse class="g" cx="847.7" cy="27.0" rx="1.0" ry="1.0"/>
<ellipse class="g" cx="852.7" cy="29.5" rx="1.4" ry="1.7"/>
<ellipse class="g" cx="727.0" cy="87.8" rx="2.5" ry="2.0"/>
<ellipse class="g" cx="736.3" cy="96.2" rx="1.5" ry="1.4"/>
<ellipse class="g" cx="762.1" cy="108.9" rx="2.4" ry="2.4"/>
<ellipse class="g" cx="762.1" cy="108.9" rx="1.2" ry="1.2"/>
<ellipse class="g" cx="772.2" cy="114.8" rx="2.4" ry="2.4"/>
<ellipse class="g" cx="772.2" cy="114.8" rx="1.2" ry="1.2"/>
<ellipse class="g" cx="866.3" cy="22.4" rx="2.0" ry="1.7"/>
<ellipse class="g" cx="881.5" cy="30.4" rx="3.0" ry="2.2"/>
<ellipse class="g" cx="882.3" cy="92.8" rx="1.0" ry="2.0"/>
<ellipse class="g" cx="910.1" cy="7.6" rx="8.1" ry="3.7" transform="rotate(10 910.1 7.6)"/>
<ellipse class="g" cx="910.1" cy="7.6" rx="5.9" ry="2.2" transform="rotate(10 910.1 7.6)"/>
<path class="e" d="M320.8,462.8C321.9,463.6 324.7,466.6 327.5,467.8C330.3,469.1 334.8,470.1 337.6,470.4C340.5,470.7 343.5,469.7 344.7,469.5 M318.2,469.5C319.4,470.4 322.0,473.3 325.0,474.6C327.9,475.9 332.9,476.9 335.9,477.1C339.0,477.3 341.9,476.0 343.0,475.8 M317.4,478.0C318.5,478.8 321.3,481.8 324.1,483.0C326.9,484.3 331.6,485.6 334.3,485.6C336.9,485.6 339.2,483.5 340.2,483.0 M305.6,521.0C305.3,523.5 303.7,532.8 303.9,536.2C304.0,539.6 304.4,539.7 306.4,541.3C308.4,542.8 313.2,544.9 315.7,545.5C318.2,546.0 320.2,546.5 321.6,544.6C323.0,542.8 323.6,537.9 324.1,534.5C324.7,531.1 324.8,526.1 325.0,524.4 M305.6,521.0C306.4,521.7 308.4,524.2 310.6,525.2C312.9,526.2 316.7,527.1 319.1,526.9C321.5,526.8 324.0,524.8 325.0,524.4 M304.2,532.0C305.3,532.8 308.2,535.9 310.6,537.0C313.1,538.2 316.9,539.0 319.1,538.7C321.3,538.5 323.0,535.9 323.8,535.4 M299.7,512.6 L303.0,510.9 L307.3,513.4 L303.9,527.8 L298.8,534.5 L294.6,532.0 L296.3,524.4Z M400.9,510.9C402.2,511.7 405.0,514.7 408.5,515.9C412.0,517.2 419.8,518.1 422.0,518.5 M398.7,518.5C400.1,519.3 403.0,522.3 406.8,523.5C410.7,524.8 419.5,525.7 422.0,526.1 M297.8,538.6 L282.7,556.3 L283.5,560.5 L289.4,562.2 L303.8,545.3 M306.3,542.8 L291.9,560.5 M312.2,545.3 L302.1,558.8 M317.3,543.6 L310.5,556.3 M320.6,541.9 L315.6,552.1 M286.0,548.7C284.9,549.3 280.8,550.1 279.3,552.1C277.7,554.0 276.6,556.8 276.8,560.5C276.9,564.2 278.2,571.3 280.1,574.0C282.1,576.7 285.5,576.3 288.6,576.5C291.7,576.8 297.0,575.8 298.7,575.7 M295.3,523.4 L294.5,530.1 L301.2,534.3 L305.4,530.1 M303.8,568.1 L308.0,570.6 L306.3,566.4 M397.4,520.0C397.6,520.8 397.0,523.4 398.3,525.1C399.5,526.8 402.2,528.9 405.0,530.1C407.8,531.4 412.2,532.8 415.1,532.7C418.1,532.5 421.2,531.4 422.7,529.3C424.3,527.2 424.1,521.5 424.4,520.0 M398.3,522.5C399.4,523.4 402.2,526.3 405.0,527.6C407.8,528.9 412.1,530.3 415.1,530.1C418.2,530.0 421.9,527.3 423.2,526.8 M386.5,568.9C386.2,570.9 384.5,577.8 384.8,580.8C385.0,583.7 385.9,585.0 388.1,586.7C390.4,588.4 395.5,590.6 398.3,590.9C401.1,591.2 403.6,590.3 405.0,588.4C406.4,586.4 406.3,582.0 406.7,579.1C407.1,576.1 407.4,572.0 407.6,570.6 M386.5,568.9C387.3,568.7 389.3,567.3 391.5,567.3C393.8,567.3 397.3,568.1 400.0,568.9C402.6,569.8 406.3,571.8 407.6,572.3 M385.1,577.4C386.5,578.2 390.2,581.3 393.2,582.4C396.2,583.6 401.1,584.4 403.3,584.1C405.6,583.9 406.1,581.3 406.7,580.8 M375.5,556.3 L379.7,555.4 L383.1,559.7 L382.2,574.0 L376.3,576.5 L372.1,574.0 L373.0,563.9Z M375.5,559.7 L378.0,560.5 L377.2,574.0 M405.0,575.7 L410.1,574.0 L414.3,579.1 L411.8,585.0 L406.7,584.1 M378.9,584.1 L363.7,602.7 L364.5,606.9 L371.3,608.6 L384.8,590.9 M388.1,590.9 L373.0,607.8 M394.9,592.6 L384.8,604.4 M400.0,590.9 L391.5,602.7 M366.2,595.9C365.2,596.5 361.7,597.6 360.3,599.3C358.9,601.0 357.6,603.3 357.8,606.1C357.9,608.9 358.9,613.7 361.1,616.2C363.4,618.7 368.5,620.1 371.3,621.3C374.1,622.4 376.9,622.7 378.0,623.0 M303.8,545.3 L310.5,556.3 L318.1,561.4 M308.0,570.6C309.0,569.8 311.8,567.1 313.9,565.6C316.0,564.0 319.5,562.1 320.6,561.4 M326.0,550.4 L320.6,541.9 M291.9,560.5 L302.1,558.8 L310.5,556.3 M384.8,590.9 L391.5,602.7 L400.0,608.6 M388.1,618.7C389.3,617.9 392.8,615.3 394.9,613.7C397.0,612.0 399.8,609.7 400.8,608.9 M407.6,597.6 L403.3,589.2 M373.0,607.8 L384.8,604.4 L391.5,602.7 M400.2,513.2C401.6,514.2 406.0,518.1 409.0,519.5C411.9,520.8 415.2,521.1 417.8,521.3C420.4,521.4 423.5,520.4 424.6,520.3 M398.9,520.8C400.4,521.8 404.8,525.7 407.7,527.1C410.7,528.4 414.1,528.8 416.6,528.8C419.0,528.9 421.6,527.6 422.6,527.3 M496.4,399.7C496.6,398.1 498.1,395.8 500.6,393.8C503.2,391.8 508.4,388.9 511.6,387.9C514.8,386.9 518.4,387.3 520.0,387.9C521.7,388.5 522.2,390.0 521.7,391.3C521.3,392.5 519.9,393.8 517.5,395.5C515.1,397.2 510.3,400.1 507.4,401.4C504.4,402.7 501.6,403.5 499.8,403.2C498.0,403.0 496.3,401.3 496.4,399.7Z M578.3,445.6C578.7,444.2 580.7,441.6 583.3,439.7C586.0,437.7 591.1,434.7 594.3,433.8C597.5,432.8 601.1,433.2 602.7,433.8C604.3,434.3 604.6,435.6 603.9,437.1C603.2,438.7 601.3,441.2 598.5,443.0C595.8,444.9 590.5,447.3 587.6,448.1C584.6,448.9 582.3,448.5 580.8,448.1C579.3,447.7 577.8,447.0 578.3,445.6Z M531.0,404.0C535.5,401.3 540.0,398.3 544.5,397.2C549.0,396.1 554.1,396.5 558.0,397.2C561.9,397.9 565.7,399.6 568.1,401.4C570.5,403.2 573.6,405.3 572.5,408.2C571.4,411.1 566.1,415.1 561.4,418.6C556.7,422.2 549.9,426.4 544.5,429.5C539.1,432.6 533.8,435.7 529.3,437.1C524.8,438.5 520.9,438.6 517.5,438.0C514.1,437.4 511.1,435.6 509.1,433.8C507.1,432.0 505.9,429.1 505.7,427.0C505.5,424.9 506.2,423.4 508.2,421.1C510.2,418.9 513.7,416.4 517.5,413.5C521.3,410.6 526.5,406.7 531.0,404.0Z"/>
<ellipse class="e" cx="299.5" cy="567.3" rx="7.6" ry="8.4"/>
<ellipse class="e" cx="300.4" cy="567.3" rx="4.2" ry="5.1"/>
<ellipse class="e" cx="322.3" cy="555.4" rx="4.2" ry="5.9" transform="rotate(15 322.3 555.4)"/>
<ellipse class="e" cx="281.0" cy="570.6" rx="2.4" ry="3.4"/>
<ellipse class="e" cx="379.7" cy="614.5" rx="7.6" ry="8.4"/>
<ellipse class="e" cx="380.5" cy="614.5" rx="4.7" ry="5.4"/>
<ellipse class="e" cx="382.2" cy="615.4" rx="2.5" ry="3.0"/>
<ellipse class="e" cx="403.3" cy="602.7" rx="4.2" ry="5.9" transform="rotate(15 403.3 602.7)"/>
<ellipse class="e" cx="403.3" cy="602.7" rx="2.0" ry="3.0" transform="rotate(15 403.3 602.7)"/>
<path class="d" d="M179.4,386.6 L179.4,422.8 L196.3,414.4 L234.3,395.0 M179.4,255.4 L179.4,317.0 M154.7,645.9 L149.0,649.1 L160.3,655.4 M192.5,674.3 L202.6,680.0 M276.3,368.2 L390.4,302.5 L390.4,367.0 M196.9,622.0 L266.4,581.3 L376.2,644.1 L453.2,601.5 L411.0,577.0 M417.0,431.0 L321.5,722.0"/>
<path class="h" d="M98.6,325.8C98.4,327.1 98.3,330.6 97.7,333.9C97.1,337.2 95.7,341.9 94.9,345.7C94.0,349.5 92.9,353.6 92.8,356.7C92.7,359.7 92.9,361.4 94.2,363.9C95.4,366.5 97.6,369.5 100.3,371.9C102.9,374.2 108.4,377.1 110.0,378.1 M90.1,340.6 L107.8,333.0 M88.4,350.8 L112.1,338.9 M91.8,361.7 L114.6,347.4 M98.2,371.4 L119.2,356.7 M107.8,379.8 L128.9,363.8 M120.5,385.5 L139.1,369.3 M136.0,387.2 L150.9,373.0 M152.9,384.5 L167.8,373.4 M169.8,382.0 L181.3,373.4 M130.6,300.1 L159.3,318.7 L164.4,322.9 M134.0,300.5 L162.7,317.8 M184.6,332.2 L220.1,352.4 L240.0,353.3 M191.4,334.2 L223.5,355.0 M150.0,346.5 L130.6,369.3 M161.0,385.9 L198.1,410.7 M273.8,358.9C273.1,363.7 271.0,379.5 269.6,387.6C268.2,395.8 266.8,402.5 265.4,407.9C264.0,413.2 262.7,416.5 261.1,419.7C259.6,422.9 256.9,426.0 256.1,427.3 M263.7,354.2C264.7,354.0 268.0,354.0 269.6,353.0C271.2,352.1 272.7,349.2 273.3,348.5 M270.9,360.1 L275.0,357.3 M185.2,332.8 L220.6,351.4 M183.5,334.1 L222.3,353.5 L225.7,356.4 M237.5,356.9 L254.4,357.8 L269.9,358.9 M213.0,359.8 L240.9,360.6 L252.7,358.9 M244.3,352.2 L254.4,353.2 L264.5,354.2 M220.6,353.0 L201.2,380.9 M240.9,361.5 L208.8,396.1 M245.9,372.4 L212.2,404.5 M245.9,372.4 L260.3,383.4 L251.0,382.6 L220.6,409.6 M251.0,382.6 L244.3,418.0 L242.6,428.1 M260.3,383.4 L250.2,421.4 L248.5,428.1 M269.6,360.6 L261.1,382.6 M259.6,496.3C259.9,492.9 260.6,482.2 261.3,476.0C262.0,469.8 263.4,461.9 263.8,459.1 M216.5,423.7 L205.6,465.9 M210.6,401.8 L203.0,428.8 M259.6,433.0 L264.6,440.6 M261.3,393.3C260.8,396.1 259.9,405.7 258.7,410.2C257.6,414.7 256.1,417.2 254.5,420.3C253.0,423.4 250.3,427.3 249.5,428.8 M321.5,659.4C320.3,660.2 316.4,662.2 314.6,664.1C312.9,666.1 311.5,668.9 311.2,671.0C311.0,673.0 311.6,674.4 313.3,676.4C315.0,678.5 320.1,682.1 321.5,683.3 M329.7,669.6C328.3,670.3 323.3,672.3 321.5,673.7C319.7,675.1 318.9,676.3 318.7,677.8C318.6,679.3 320.4,681.8 320.8,682.6 M321.5,683.3C322.8,683.5 326.9,684.5 329.7,684.6C332.4,684.7 336.5,684.1 337.9,683.9 M332.4,664.1C333.8,663.8 337.9,662.1 340.6,662.1C343.3,662.1 345.8,662.7 348.8,664.1C351.7,665.6 355.6,668.5 358.3,671.0C361.1,673.5 364.0,677.8 365.2,679.2"/>
<path class="n" d="M87.9,592.0C90.0,592.0 95.4,590.1 100.5,592.0C105.5,593.9 112.7,598.5 118.1,603.4C123.6,608.2 129.8,615.7 133.3,621.0C136.7,626.4 137.9,633.0 138.8,635.4 M71.5,612.2C72.5,613.9 73.8,619.4 77.8,622.3C81.8,625.2 89.1,628.4 95.4,629.9C101.7,631.3 108.5,631.3 115.6,631.1C122.8,630.9 130.3,629.9 138.3,628.6C146.3,627.4 154.7,625.5 163.6,623.6C172.4,621.7 186.7,618.3 191.3,617.3 M109.3,640.0 L109.3,631.6 M80.3,631.1C82.6,627.8 88.7,617.3 94.2,610.9C99.6,604.6 105.7,599.2 113.1,593.3C120.5,587.4 130.3,580.0 138.3,575.6C146.3,571.2 154.5,568.9 161.0,566.8C167.6,564.7 174.7,563.6 177.4,563.0 M137.6,628.3 L138.9,636.8 M174.8,620.7C175.0,621.8 176.0,624.8 176.1,627.0C176.2,629.2 175.6,632.8 175.5,634.0 M152.8,638.0C156.6,637.3 169.1,635.1 175.5,634.0C181.9,632.8 188.6,631.3 191.2,630.8"/>
<path class="m" d="M105.3,321.2C105.6,323.1 105.9,327.8 107.0,332.2C108.1,336.6 109.8,342.9 112.1,347.4C114.3,351.9 117.1,355.8 120.5,359.2C123.9,362.6 127.3,365.4 132.3,367.6C137.4,369.9 147.8,371.9 150.9,372.7 M110.0,322.4C110.2,324.0 110.2,328.2 111.2,332.2C112.3,336.2 114.1,342.3 116.3,346.5C118.5,350.8 121.0,354.3 124.2,357.5C127.5,360.7 131.0,363.7 135.7,365.9C140.4,368.2 146.9,370.1 152.6,371.0C158.3,371.9 167.1,371.3 170.0,371.4 M170.0,374.0C173.6,374.1 187.3,374.1 191.7,374.5C196.2,374.8 195.4,375.2 196.5,375.9C197.6,376.5 198.0,377.8 198.4,378.2 M170.0,372.8 L192.7,373.1 M182.9,318.9C184.0,318.6 187.4,318.0 189.6,317.2C191.9,316.5 195.2,314.9 196.3,314.5 M161.6,646.6C161.9,647.2 162.4,647.2 163.5,650.3C164.5,653.5 166.3,659.6 167.9,665.5C169.5,671.3 171.7,680.6 172.9,685.6C174.2,690.7 174.5,693.6 175.2,695.7C175.9,697.8 177.0,697.8 177.4,698.2 M185.5,668.2 L192.5,668.6 L195.4,671.8 M185.5,668.2 L178.2,694.7 L186.6,693.8 L190.3,690.7 M186.6,670.5 L191.9,671.8 L186.8,691.3 L181.1,692.6Z M191.2,675.5 L187.4,690.7 M192.9,675.5 L189.1,690.7 M253.2,645.8C254.6,646.8 257.7,649.5 261.4,651.8C265.0,654.2 270.0,657.1 275.0,660.0C280.0,663.0 286.0,666.5 291.4,669.6C296.9,672.7 302.8,676.0 307.8,678.5C312.8,681.0 317.4,682.9 321.5,684.6C325.6,686.4 330.6,688.3 332.4,689.0 M261.4,645.0C263.7,645.1 270.3,645.0 275.0,645.3C279.8,645.6 285.1,646.0 290.1,647.1C295.1,648.2 302.6,651.1 305.1,651.8 M309.2,645.0C310.8,646.2 315.8,649.7 318.7,651.8C321.7,654.0 325.6,657.0 326.9,658.0"/>
<path class="k" d="M105.3,321.2 L119.7,306.9 L129.8,299.3 M129.8,299.3C132.2,298.9 139.2,297.5 144.1,296.8C149.1,296.0 155.1,295.0 159.3,294.7C163.5,294.4 166.4,294.9 169.5,295.1C172.5,295.3 176.5,295.8 177.9,295.9 M177.9,295.9 L202.4,303.5 L204.9,305.2 L195.6,326.3 M201.9,306.9 L195.1,323.8 M164.4,300.5 L168.6,301.5 M190.5,305.2 L194.8,306.2 M123.0,307.7 L131.0,300.5 M105.3,321.2C103.9,321.9 99.0,324.3 96.9,325.1C94.8,325.9 93.6,325.7 92.7,326.3C91.8,326.9 91.6,327.6 91.5,328.8C91.4,330.1 92.7,331.1 92.2,333.9C91.6,336.7 89.5,341.8 88.4,345.7C87.4,349.6 86.0,354.1 85.9,357.5C85.8,360.9 86.0,362.9 87.6,365.9C89.1,369.0 92.0,373.1 95.2,376.1C98.4,379.0 103.1,381.7 107.0,383.7C110.9,385.6 114.0,387.0 118.8,387.9C123.6,388.7 129.5,389.0 135.7,388.7C141.9,388.5 150.2,387.2 155.9,386.2C161.7,385.2 167.6,383.5 170.0,383.0 M94.3,326.3C94.3,327.6 94.5,330.6 93.8,333.9C93.2,337.1 91.4,341.8 90.5,345.7C89.5,349.6 88.4,354.3 88.3,357.5C88.2,360.7 88.5,362.3 90.0,365.1C91.4,367.9 94.2,371.5 97.2,374.2C100.2,376.9 104.2,379.3 108.0,381.1C111.8,383.0 115.2,384.5 119.8,385.4C124.4,386.2 129.7,386.5 135.7,386.2C141.7,385.9 150.2,384.6 155.9,383.7C161.7,382.7 167.6,381.0 170.0,380.5 M150.9,372.7 L170.0,373.0 M225.1,356.7 L240.0,357.5 M156.8,386.2 L196.5,411.9 M181.3,404.8 L196.5,412.4 M196.2,329.4C197.4,330.0 199.7,332.1 203.8,332.8C207.8,333.5 215.0,333.1 220.6,333.6C226.3,334.2 231.9,335.0 237.5,336.2C243.1,337.3 249.0,339.3 254.4,340.4C259.7,341.5 266.2,341.9 269.6,342.9C273.0,343.9 273.5,344.9 274.6,346.3C275.8,347.7 276.3,348.1 276.3,351.4C276.3,354.6 275.5,359.9 274.6,365.7C273.8,371.5 272.4,379.5 271.3,385.9C270.1,392.4 269.2,399.2 267.9,404.5C266.6,409.9 265.4,414.1 263.7,418.0C262.0,422.0 260.2,425.8 257.8,428.1C255.4,430.5 250.7,431.7 249.3,432.4 M224.3,355.7 L237.5,356.9 M254.4,357.8 L251.9,363.2 M263.7,418.0 L267.9,424.8 L272.6,435.7 M220.6,418.0 L229.1,421.4 L227.4,425.1 M230.5,422.8 L232.2,427.9 L248.1,435.5 L254.2,440.1 L252.3,448.5 L256.9,451.5 L263.0,448.7 L276.8,453.6 L278.6,455.8 L275.8,458.8 L270.7,460.0 L257.6,452.7 L256.9,451.5 M263.0,448.7 L257.9,452.7 M234.3,424.5 L249.5,432.5 L261.3,439.2 L270.5,445.6 L278.1,453.2 M194.6,416.1 L198.8,415.3 L202.2,419.5 L203.0,425.4 L200.5,427.1 L199.7,422.8 L196.3,420.3Z M199.2,422.8 L202.2,424.5 M201.4,427.9 L196.8,459.1 L198.0,461.7 L200.5,460.8 M203.0,428.8 L199.8,460.1 M198.0,461.7C200.1,462.9 204.3,465.5 210.6,469.3C217.0,473.1 228.6,480.0 235.9,484.5C243.3,489.0 250.2,493.7 254.5,496.3C258.9,498.8 260.3,499.3 262.1,499.6C263.9,500.0 264.9,498.5 265.5,498.3 M265.5,498.3C265.8,495.1 266.5,485.4 267.2,479.4C267.9,473.4 269.0,465.7 269.7,462.5C270.4,459.3 271.1,460.4 271.4,460.0 M262.1,499.6C262.4,496.3 263.1,486.0 263.8,479.4C264.5,472.8 265.9,463.2 266.3,460.0 M271.4,461.7 L276.5,460.8 L277.3,470.1 L273.1,469.3Z M273.4,463.4 L275.6,467.6 M268.0,491.5 L276.5,496.3 L286.6,495.9 L293.0,498.3 L285.7,501.7 L277.3,500.5 L265.5,498.8Z M263.0,416.9C264.1,418.9 267.5,424.0 269.7,428.8C272.0,433.5 275.0,441.1 276.5,445.6C277.9,450.1 278.3,454.1 278.6,455.8 M268.0,391.6C267.6,394.4 266.3,404.3 265.5,408.5C264.6,412.7 263.4,415.5 263.0,416.9 M263.0,416.9C262.3,418.2 261.1,422.2 258.7,424.5C256.3,426.9 250.3,429.9 248.6,430.9 M170.0,383.0C172.4,382.8 181.0,381.9 184.2,382.0C187.3,382.2 187.3,382.6 188.9,383.9C190.5,385.2 191.4,386.9 193.6,389.6C195.8,392.3 199.1,396.5 202.1,400.0C205.1,403.4 208.4,407.1 211.6,410.4C214.7,413.7 218.5,417.3 221.0,419.8C223.6,422.4 225.8,424.6 226.7,425.5 M170.0,379.2C172.5,379.1 181.7,378.6 185.1,378.7C188.6,378.9 188.9,378.9 190.8,380.1C192.7,381.3 193.9,383.1 196.5,385.8C199.0,388.5 202.9,392.9 205.9,396.2C208.9,399.5 211.6,402.7 214.4,405.7C217.3,408.6 220.5,411.6 222.9,414.2C225.4,416.7 228.1,419.7 229.1,420.8 M226.7,425.5 L229.1,420.8 M170.0,371.6C173.9,371.7 188.9,371.8 193.6,372.1C198.4,372.4 197.2,372.8 198.4,373.5C199.5,374.2 200.4,375.1 200.7,376.3C201.0,377.6 200.8,379.8 200.3,381.1C199.7,382.3 197.9,383.4 197.4,383.9 M143.4,340.2C144.8,339.4 148.6,336.9 151.8,335.3C155.0,333.7 160.9,331.2 162.7,330.4 M143.4,340.2 L160.2,349.6 L178.7,333.2 M162.7,330.4 L168.6,325.2 L177.0,318.1 M158.5,322.7 L168.6,319.7 L178.7,316.8 L181.2,317.6 M181.2,317.6C182.1,318.2 184.2,319.7 186.3,321.0C188.4,322.3 192.1,323.8 193.8,325.2C195.6,326.6 196.3,328.7 196.8,329.4 M196.8,329.4C195.4,329.7 191.5,330.5 188.8,331.1C186.1,331.7 182.3,332.8 180.4,333.2C178.4,333.6 178.0,333.8 177.0,333.6C176.0,333.5 174.9,332.6 174.5,332.4 M169.5,326.1 L178.7,321.0 M168.6,325.2 L171.1,326.9 M177.0,324.4 L179.5,325.2 L183.7,323.9 L185.4,324.8 L182.1,326.9 L178.7,326.1 M159.4,322.3 L162.7,324.4 L165.3,321.8 M181.2,317.6C182.5,317.4 186.4,316.7 188.8,316.0C191.2,315.3 193.8,314.7 195.5,313.4C197.2,312.2 197.3,309.9 198.9,308.4C200.4,306.9 203.8,305.3 204.7,304.6 M175.2,258.1C175.4,258.4 175.6,259.6 176.1,260.2C176.5,260.7 177.1,261.2 177.7,261.4C178.3,261.7 178.9,261.7 179.6,261.7C180.3,261.7 181.2,261.7 181.8,261.4C182.4,261.2 182.8,260.7 183.2,260.2C183.6,259.6 183.8,258.4 183.9,258.1 M177.7,261.4 L177.7,267.3 L178.6,268.6 L180.7,268.6 L181.8,267.3 L181.8,261.4 M178.6,264.4 L180.9,264.4 M172.0,283.7 L179.0,279.5 L186.6,283.3 L178.6,289.6 L172.0,285.8Z M172.0,285.8 L172.0,283.7 M173.1,285.0 L179.0,288.3 L185.7,283.3 M179.0,279.5 L179.0,280.3 M175.2,287.1 L175.2,286.1 L178.6,287.9 M184.5,284.5 L186.6,286.6 M178.6,289.6 L178.6,288.3 M68.9,621.0C69.3,619.4 68.3,615.8 71.5,610.9C74.6,606.1 81.3,598.3 87.9,592.0C94.4,585.7 103.0,578.1 110.6,573.1C118.1,568.0 125.7,564.5 133.3,561.7C140.9,559.0 149.7,557.3 156.0,556.7C162.3,556.1 166.5,556.7 171.1,557.9C175.8,559.2 180.0,561.3 183.8,564.3C187.5,567.2 191.4,571.2 193.8,575.6C196.3,580.0 197.8,585.3 198.4,590.8C199.0,596.2 198.4,603.4 197.6,608.4C196.9,613.5 194.9,617.5 193.8,621.0C192.8,624.6 191.7,628.4 191.3,629.9 M68.9,621.0C69.1,622.3 68.7,626.3 70.2,628.6C71.7,630.9 74.4,633.2 77.8,634.9C81.1,636.6 84.9,637.9 90.4,638.7C95.8,639.5 102.6,640.2 110.6,640.0C118.6,639.7 133.7,637.7 138.3,637.2 M91.6,638.7 L91.6,650.1 L94.9,653.3 L104.3,645.0 L105.0,640.0 M95.4,641.2 L95.4,648.8 L101.7,643.2 M138.9,636.8C140.4,637.0 144.9,637.2 147.7,638.0C150.6,638.7 153.8,640.1 155.9,641.3C158.0,642.4 159.3,643.4 160.3,644.7C161.4,646.0 161.2,645.6 162.2,649.1C163.3,652.5 165.1,659.4 166.6,665.5C168.2,671.6 170.4,680.4 171.7,685.6C172.9,690.9 173.4,694.6 174.2,697.0C175.0,699.3 175.7,699.2 176.7,699.8C177.8,700.3 178.8,700.6 180.5,700.1C182.2,699.7 185.1,698.6 186.8,697.0C188.5,695.4 190.0,691.7 190.6,690.7 M190.6,690.7C191.2,688.6 193.4,681.2 194.4,678.1C195.4,674.9 196.4,674.7 196.6,671.8C196.9,668.8 196.2,665.5 195.6,660.4C195.0,655.4 193.8,646.5 193.1,641.5C192.4,636.6 191.4,633.1 191.2,630.8C191.0,628.5 191.3,629.4 191.9,627.6C192.4,625.9 193.6,623.0 194.4,620.1C195.1,617.1 195.9,611.7 196.3,610.0 M203.8,682.1 L208.6,684.6 M205.1,679.7 L209.8,682.1 M203.8,682.1C203.7,681.9 203.0,681.0 203.2,680.6C203.4,680.2 204.8,679.9 205.1,679.7 M250.5,644.3C250.9,644.0 250.7,642.7 253.2,642.3C255.7,641.8 261.7,641.7 265.5,641.6C269.2,641.6 272.3,642.1 275.7,642.0C279.1,641.9 282.4,641.0 286.0,640.9C289.5,640.9 293.0,640.9 296.9,641.6C300.8,642.3 305.1,643.7 309.2,645.0C313.3,646.4 317.4,648.3 321.5,649.8C325.6,651.3 330.1,652.8 333.8,653.9C337.4,655.0 339.9,655.0 343.3,656.6C346.7,658.2 350.8,661.1 354.2,663.5C357.7,665.8 361.4,668.6 363.8,671.0C366.2,673.4 367.6,675.5 368.6,677.8C369.6,680.1 370.1,682.8 369.9,684.6C369.8,686.4 368.7,688.0 367.9,688.7C367.1,689.4 366.1,689.5 365.2,688.7C364.3,687.9 363.6,685.4 362.4,683.9C361.3,682.5 359.9,680.9 358.3,679.8C356.7,678.8 354.7,677.9 352.9,677.8C351.1,677.7 348.9,678.4 347.4,679.2C345.9,680.0 344.7,681.0 344.0,682.6C343.3,684.2 343.1,686.8 343.3,688.7C343.5,690.7 344.7,692.4 345.4,694.2C346.1,696.0 347.1,698.7 347.4,699.6 M250.5,644.3C250.7,644.8 250.5,645.7 251.8,647.1C253.2,648.4 255.2,650.3 258.7,652.5C262.1,654.8 267.3,657.7 272.3,660.7C277.3,663.8 283.2,667.7 288.7,671.0C294.2,674.3 300.1,677.8 305.1,680.5C310.1,683.3 314.6,685.5 318.7,687.4C322.8,689.2 326.5,689.9 329.7,691.5C332.9,693.0 335.9,695.7 337.9,696.9C339.8,698.2 340.7,698.6 341.3,699.0 M253.2,643.7C255.2,643.6 261.6,643.1 265.5,643.1C269.4,643.1 274.6,643.6 276.4,643.7 M275.7,642.0 L276.7,638.2 L281.9,637.9 L287.3,639.8 L286.0,641.2 M277.8,639.3 L281.9,639.0 L286.0,640.4 M296.2,641.6 L297.6,640.2 L300.3,640.9 L301.7,643.0 M296.9,641.7C298.9,642.5 305.1,644.4 309.2,646.4C313.3,648.4 318.3,651.8 321.5,653.9C324.7,655.9 326.5,657.2 328.3,658.7C330.1,660.2 331.7,662.1 332.4,662.8 M326.9,658.0 L332.4,660.7 L331.7,662.8 L326.3,659.4Z M326.3,678.5C327.3,677.0 330.8,671.5 332.4,669.6C334.0,667.7 334.4,667.2 335.8,666.9C337.2,666.5 339.2,667.1 340.6,667.6C342.0,668.0 343.7,668.6 344.0,669.6C344.3,670.6 343.4,672.8 342.6,673.7C341.8,674.6 340.7,673.6 339.2,675.1C337.7,676.5 334.7,681.3 333.8,682.6 M330.3,679.8C331.3,678.5 334.3,673.2 335.8,671.6C337.3,670.1 338.7,670.5 339.2,670.3 M326.3,678.5 L329.7,681.2 L333.8,682.6 M348.1,673.7 L348.1,670.3 L350.1,670.0 L350.8,673.7 M337.9,681.9C338.3,683.0 339.7,686.4 340.6,688.7C341.5,691.0 342.5,694.0 343.3,695.5C344.1,697.1 345.0,697.8 345.4,698.3 M337.9,696.9 L337.9,700.3 L337.6,706.5 L340.6,709.2 L346.7,709.2 L348.8,707.8 L350.8,700.3 L347.4,699.0 M337.9,700.3C338.3,700.6 339.0,701.8 340.6,702.1C342.2,702.4 345.7,702.7 347.4,702.4C349.1,702.1 350.3,700.7 350.8,700.3 M340.6,698.3 L350.1,700.3 M321.5,686.7 L332.4,690.8 L340.6,697.9 M319.4,720.1 L318.1,727.6 M323.1,719.4 L322.2,727.0 M319.4,720.1C319.7,719.8 320.6,718.5 321.2,718.4C321.8,718.2 322.8,719.3 323.1,719.4 M318.7,722.9 L322.6,722.3 M318.5,724.9 L322.3,724.5"/>
<ellipse class="k" cx="284.1" cy="498.1" rx="2.5" ry="1.0"/>
<ellipse class="k" cx="163.6" cy="337.8" rx="6.3" ry="3.5" transform="rotate(-5 163.6 337.8)"/>
<ellipse class="k" cx="179.6" cy="257.8" rx="4.4" ry="2.4"/>
<ellipse class="k" cx="179.6" cy="257.2" rx="1.5" ry="0.7"/>
<ellipse class="k" cx="179.4" cy="282.9" rx="1.8" ry="1.1"/>
<ellipse class="k" cx="99.5" cy="643.0" rx="1.3" ry="1.0"/>
<ellipse class="k" cx="211.4" cy="685.4" rx="2.5" ry="3.8" transform="rotate(-25 211.4 685.4)"/>
<ellipse class="k" cx="307.4" cy="653.5" rx="1.8" ry="0.7" transform="rotate(10 307.4 653.5)"/>
<ellipse class="k" cx="345.8" cy="647.2" rx="3.4" ry="1.5" transform="rotate(20 345.8 647.2)"/>
<ellipse class="k" cx="345.8" cy="647.2" rx="1.8" ry="0.7" transform="rotate(20 345.8 647.2)"/>
<ellipse class="k" cx="319.4" cy="729.1" rx="4.1" ry="1.2"/>
<path class="b" d="M397.9,651.5 L405.6,651.5 L405.6,702.9 L397.9,702.9 M405.6,676.8 L411.2,676.8"/>
<path class="t" d="M195.4,221.5 L180.3,256.1 M207.0,253.1 L183.6,279.6 M105.3,283.4 L119.2,306.6 M120.9,537.9 L132.6,561.8 M209.1,688.5 L200.0,708.6 M300.7,712.3 L318.3,724.9 M348.2,648.1 L382.0,666.9 L389.7,666.9 M393.8,691.8C391.2,691.8 381.3,692.0 378.0,691.8C374.7,691.5 375.2,691.0 374.0,690.3C372.8,689.6 371.5,688.2 371.0,687.8"/>
<ellipse class="f" cx="189.3" cy="673.0" rx="1.1" ry="1.9" transform="rotate(25 189.3 673.0)"/>
<ellipse class="f" cx="184.5" cy="688.2" rx="1.1" ry="1.9" transform="rotate(25 184.5 688.2)"/>
<ellipse class="f" cx="211.8" cy="685.6" rx="1.3" ry="2.0" transform="rotate(-25 211.8 685.6)"/>
<text x="193.3" y="220">5</text>
<text x="206" y="253.3">6</text>
<text x="93.8" y="283.2">4</text>
<text x="116" y="536.5">7</text>
<text x="191.4" y="727">8</text>
<text x="289.8" y="711.5">3</text>
<text x="390.4" y="673.5">2</text>
<text x="409.6" y="683.1">1</text>
<circle cx="398.2" cy="691.8" r="4.4" fill="#111"/>
</svg>
</body></html>
